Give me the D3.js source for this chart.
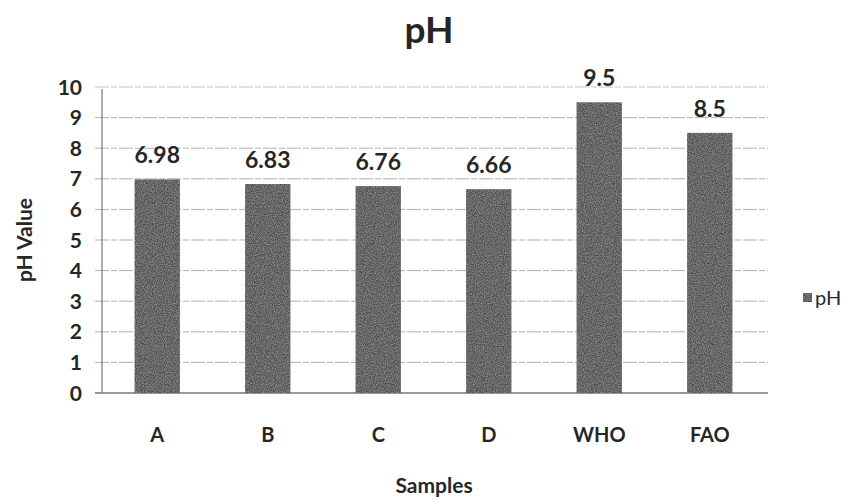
<!DOCTYPE html>
<html>
<head>
<meta charset="utf-8">
<script src="https://cdn.jsdelivr.net/npm/d3@7"></script>
<style>
  body { margin: 0; background: #fff; }
  svg { display: block; font-family: Lato, "Open Sans", sans-serif; }
</style>
</head>
<body>
<svg id="chart" width="854" height="501"></svg>
<script>
// pH of water samples compared with WHO and FAO limits
const categories = ["A", "B", "C", "D", "WHO", "FAO"];
const phValues = [6.98, 6.83, 6.76, 6.66, 9.5, 8.5];
const valueLabels = ["6.98", "6.83", "6.76", "6.66", "9.5", "8.5"];
const yTicks = [0, 1, 2, 3, 4, 5, 6, 7, 8, 9, 10];

const svg = d3.select("#chart");
const margin = { left: 102, right: 89, top: 87, bottom: 108 };
const W = 854, H = 501;
const ink = "#262626";
const barFill = "#505050";

const x = d3.scaleBand()
  .domain(categories)
  .range([margin.left, W - margin.right])
  .paddingInner(0.59)
  .paddingOuter(0.295);

const y = d3.scaleLinear()
  .domain([0, 10])
  .range([H - margin.bottom, margin.top]);

// grain for the bars
const defs = svg.append("defs");
const f = defs.append("filter").attr("id", "grain").attr("x", 0).attr("y", 0).attr("width", 1).attr("height", 1);
f.append("feTurbulence").attr("type", "fractalNoise").attr("baseFrequency", 0.9).attr("numOctaves", 2).attr("seed", 3).attr("result", "noise");
f.append("feColorMatrix").attr("in", "noise").attr("type", "matrix")
  .attr("values", "0 0 0 0 0.5  0 0 0 0 0.5  0 0 0 0 0.5  0 0 0 0.9 -0.3").attr("result", "tint");
f.append("feComposite").attr("in", "tint").attr("in2", "SourceGraphic").attr("operator", "in").attr("result", "dots");
f.append("feMerge").selectAll("feMergeNode").data(["SourceGraphic", "dots"]).join("feMergeNode").attr("in", d => d);

// horizontal gridlines
svg.append("g")
  .selectAll("line")
  .data(yTicks)
  .join("line")
  .attr("x1", margin.left - 7)
  .attr("x2", W - margin.right + 3)
  .attr("y1", d => y(d))
  .attr("y2", d => y(d))
  .attr("stroke", d => d === 0 ? "#777" : (d === 10 ? "#c4c4c4" : "#b0b0b0"))
  .attr("stroke-width", d => d === 0 ? 1.4 : 1)
  .attr("stroke-dasharray", d => d === 0 ? null : "14,2,6,2");

// y axis line
svg.append("line")
  .attr("x1", margin.left).attr("x2", margin.left)
  .attr("y1", y(10) + 2).attr("y2", y(0))
  .attr("stroke", "#777").attr("stroke-width", 1.2);

// y tick labels
svg.append("g")
  .selectAll("text")
  .data(yTicks)
  .join("text")
  .attr("x", 82)
  .attr("y", d => y(d))
  .attr("dy", "0.36em")
  .attr("text-anchor", "end")
  .attr("font-size", 21)
  .attr("font-weight", 700)
  .attr("fill", ink)
  .text(d => d);

// bars
svg.append("g")
  .selectAll("rect")
  .data(phValues)
  .join("rect")
  .attr("x", (d, i) => x(categories[i]))
  .attr("width", x.bandwidth())
  .attr("y", d => y(d))
  .attr("height", d => y(0) - y(d))
  .attr("fill", barFill)
  .attr("filter", "url(#grain)");

// value labels
svg.append("g")
  .selectAll("text")
  .data(phValues)
  .join("text")
  .attr("x", (d, i) => x(categories[i]) + x.bandwidth() / 2)
  .attr("y", d => y(d) - 16)
  .attr("text-anchor", "middle")
  .attr("font-size", 23)
  .attr("font-weight", 700)
  .attr("fill", ink)
  .text((d, i) => valueLabels[i]);

// category labels
svg.append("g")
  .selectAll("text")
  .data(categories)
  .join("text")
  .attr("x", d => x(d) + x.bandwidth() / 2)
  .attr("y", 442)
  .attr("text-anchor", "middle")
  .attr("font-size", 20)
  .attr("font-weight", 700)
  .attr("fill", ink)
  .text(d => d);

// axis titles
svg.append("text")
  .attr("x", 434).attr("y", 493)
  .attr("text-anchor", "middle")
  .attr("font-size", 21).attr("font-weight", 700).attr("fill", ink)
  .text("Samples");

svg.append("text")
  .attr("transform", "translate(32,240) rotate(-90)")
  .attr("text-anchor", "middle")
  .attr("font-size", 21).attr("font-weight", 700).attr("fill", ink)
  .text("pH Value");

// chart title
svg.append("text")
  .attr("x", 429).attr("y", 43)
  .attr("text-anchor", "middle")
  .attr("font-size", 37).attr("font-weight", 700).attr("fill", ink)
  .text("pH");

// legend
const lg = svg.append("g").attr("transform", "translate(803,298)");
lg.append("rect").attr("x", 0).attr("y", -5).attr("width", 9).attr("height", 9)
  .attr("fill", barFill).attr("filter", "url(#grain)");
lg.append("text").attr("x", 12).attr("y", 0).attr("dy", "0.36em")
  .attr("font-size", 20).attr("font-weight", 400).attr("fill", ink)
  .text("pH");
</script>
</body>
</html>
